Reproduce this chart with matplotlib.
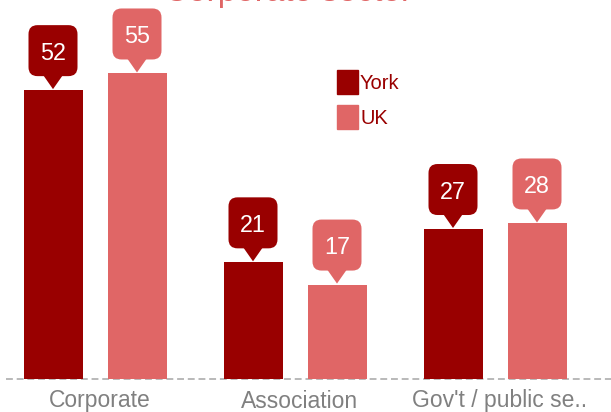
import matplotlib
matplotlib.use("Agg")
import matplotlib.pyplot as plt
import matplotlib.transforms as mtransforms
from matplotlib.patches import FancyBboxPatch, Polygon, Rectangle
import numpy as np

categories = ["Corporate", "Association", "Gov't / public se.."]
york = [52, 21, 27]
uk = [55, 17, 28]
series_names = ["York", "UK"]
title = "Corporate sector"

YORK_C = "#990000"
UK_C = "#e06666"
W, H = 611, 412

plt.rcParams['font.family'] = ['Liberation Sans', 'DejaVu Sans']

fig = plt.figure(figsize=(W / 100, H / 100), dpi=100)
# axes bottom sits on the dashed baseline
ax = fig.add_axes([0, 33 / H, 1, 379 / H])
ax.set_xlim(-95.5 / 200, (W - 95.5) / 200)
ax.set_ylim(0, 379 / 5.555)
ax.axis('off')

x = np.arange(len(categories))
off, width = 0.21, 0.295
ax.bar(x - off, york, width=width, color=YORK_C, zorder=3)
ax.bar(x + off, uk, width=width, color=UK_C, zorder=3)

# dashed baseline
ax.axhline(0, xmin=6 / W, xmax=1, color='#a6a6a6', lw=1.1,
           dashes=(4.5, 2.5), zorder=2, clip_on=False)

# category labels
for xi, lab in zip(x, categories):
    ax.annotate(lab, xy=(xi + 0.02, 0), xytext=(0, -22 * 0.72),
                textcoords='offset points', ha='center', va='center',
                fontsize=16.5, color='#808080', annotation_clip=False)


def callout(xc, val, color):
    # pixel units relative to the top centre of the bar
    t = mtransforms.Affine2D() + mtransforms.ScaledTranslation(xc, val, ax.transData)
    box = FancyBboxPatch((-25, 14), 49, 51,
                         boxstyle="round,pad=0,rounding_size=9",
                         fc=color, ec='none', transform=t, zorder=5,
                         clip_on=False)
    ax.add_patch(box)
    tri = Polygon([(-11, 16), (10, 16), (-0.5, 1)], closed=True, fc=color,
                  ec='none', transform=t, zorder=5, clip_on=False)
    ax.add_patch(tri)
    ax.text(-0.5, 30.5, str(val), transform=t, ha='center', va='baseline',
            color='white', fontsize=16.8, zorder=6, clip_on=False)


for xi, v in zip(x, york):
    callout(xi - off, v, YORK_C)
for xi, v in zip(x, uk):
    callout(xi + off, v, UK_C)

# legend drawn by hand
for i, (name, c) in enumerate(zip(series_names, [YORK_C, UK_C])):
    top = 70 + i * 35
    fig.add_artist(Rectangle((337 / W, (H - top - 24) / H), 21 / W, 24 / H,
                             color=c, transform=fig.transFigure))
    fig.text(360 / W, (H - top - 19) / H, name, color=YORK_C,
             fontsize=14.5, ha='left', va='baseline')

# title, mostly cut off by the top edge
fig.text(288 / W, (H - 1.0) / H, title, color=UK_C, fontsize=24,
         ha='center', va='baseline')

fig.savefig("out.png", dpi=100)
